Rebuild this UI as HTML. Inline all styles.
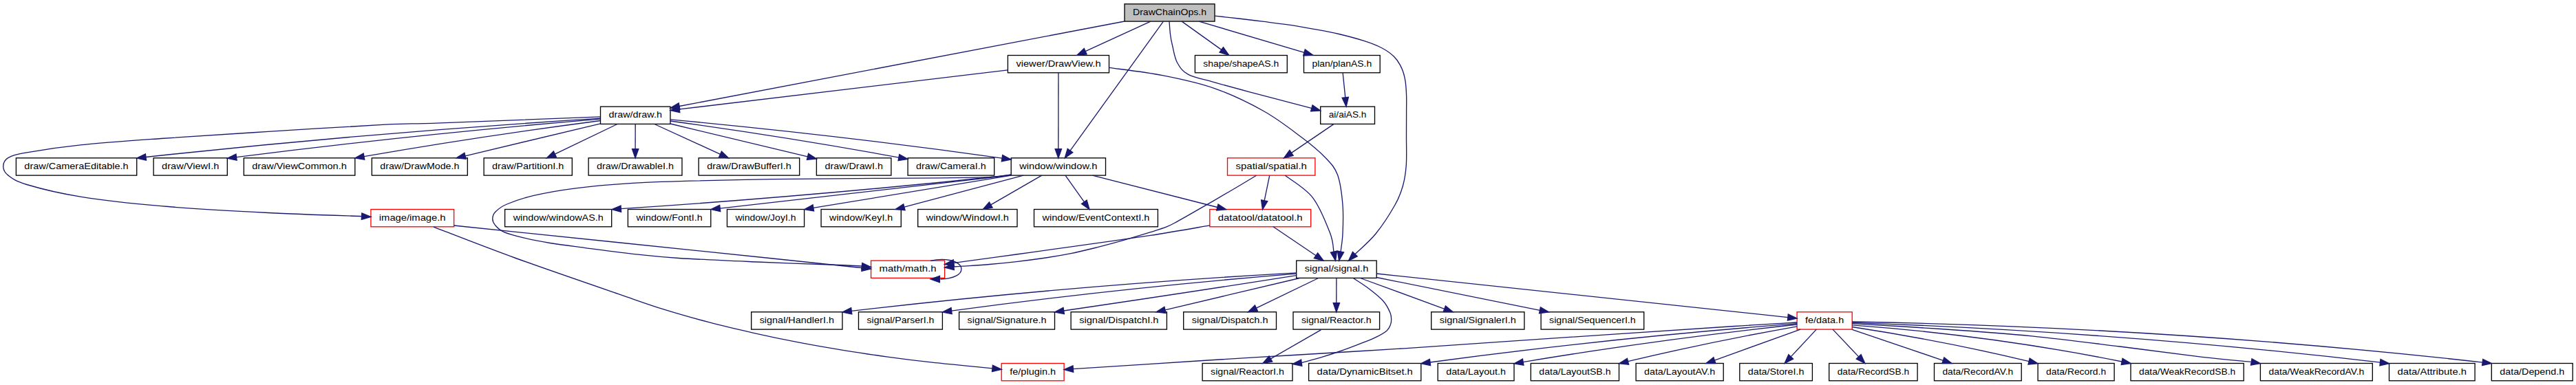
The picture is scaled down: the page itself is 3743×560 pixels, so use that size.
<!DOCTYPE html>
<html><head><meta charset="utf-8"><title>DrawChainOps.h</title>
<style>html,body{margin:0;padding:0;background:#fff}svg{display:block}text{font-family:"Liberation Sans",sans-serif;font-size:13.5px;fill:#000;text-anchor:middle}.e{fill:none;stroke:#191970;stroke-width:1.33}.a{fill:#191970;stroke:#191970;stroke-width:1.33}.n{stroke-width:1.33}</style></head><body>
<svg width="3743" height="560" viewBox="0 0 3743 560">
<rect width="3743" height="560" fill="#fff"/>
<rect class="n" x="1634.0" y="5.8" width="131.0" height="25.3" fill="#bfbfbf" stroke="#000"/>
<text x="1699.5" y="22.1" textLength="107.0" lengthAdjust="spacingAndGlyphs">DrawChainOps.h</text>
<rect class="n" x="1464.4" y="80.5" width="147.1" height="25.3" fill="#fff" stroke="#000"/>
<text x="1538.0" y="96.7" textLength="123.1" lengthAdjust="spacingAndGlyphs">viewer/DrawView.h</text>
<rect class="n" x="1736.4" y="80.5" width="133.9" height="25.3" fill="#fff" stroke="#000"/>
<text x="1803.3" y="96.7" textLength="109.9" lengthAdjust="spacingAndGlyphs">shape/shapeAS.h</text>
<rect class="n" x="1894.5" y="80.5" width="110.7" height="25.3" fill="#fff" stroke="#000"/>
<text x="1949.8" y="96.7" textLength="86.7" lengthAdjust="spacingAndGlyphs">plan/planAS.h</text>
<rect class="n" x="872.5" y="155.1" width="101.5" height="25.3" fill="#fff" stroke="#000"/>
<text x="923.2" y="171.4" textLength="77.5" lengthAdjust="spacingAndGlyphs">draw/draw.h</text>
<rect class="n" x="1918.7" y="155.1" width="78.8" height="25.3" fill="#fff" stroke="#000"/>
<text x="1958.1" y="171.4" textLength="54.8" lengthAdjust="spacingAndGlyphs">ai/aiAS.h</text>
<rect class="n" x="23.4" y="229.8" width="175.3" height="25.3" fill="#fff" stroke="#000"/>
<text x="111.0" y="246.1" textLength="151.3" lengthAdjust="spacingAndGlyphs">draw/CameraEditable.h</text>
<rect class="n" x="223.1" y="229.8" width="107.2" height="25.3" fill="#fff" stroke="#000"/>
<text x="276.7" y="246.1" textLength="83.2" lengthAdjust="spacingAndGlyphs">draw/ViewI.h</text>
<rect class="n" x="354.3" y="229.8" width="161.5" height="25.3" fill="#fff" stroke="#000"/>
<text x="435.0" y="246.1" textLength="137.5" lengthAdjust="spacingAndGlyphs">draw/ViewCommon.h</text>
<rect class="n" x="540.3" y="229.8" width="139.0" height="25.3" fill="#fff" stroke="#000"/>
<text x="609.8" y="246.1" textLength="115.0" lengthAdjust="spacingAndGlyphs">draw/DrawMode.h</text>
<rect class="n" x="703.1" y="229.8" width="128.2" height="25.3" fill="#fff" stroke="#000"/>
<text x="767.2" y="246.1" textLength="104.2" lengthAdjust="spacingAndGlyphs">draw/PartitionI.h</text>
<rect class="n" x="855.1" y="229.8" width="135.9" height="25.3" fill="#fff" stroke="#000"/>
<text x="923.0" y="246.1" textLength="111.9" lengthAdjust="spacingAndGlyphs">draw/DrawableI.h</text>
<rect class="n" x="1015.2" y="229.8" width="146.5" height="25.3" fill="#fff" stroke="#000"/>
<text x="1088.5" y="246.1" textLength="122.5" lengthAdjust="spacingAndGlyphs">draw/DrawBufferI.h</text>
<rect class="n" x="1186.4" y="229.8" width="108.5" height="25.3" fill="#fff" stroke="#000"/>
<text x="1240.7" y="246.1" textLength="84.5" lengthAdjust="spacingAndGlyphs">draw/DrawI.h</text>
<rect class="n" x="1319.1" y="229.8" width="125.6" height="25.3" fill="#fff" stroke="#000"/>
<text x="1381.9" y="246.1" textLength="101.6" lengthAdjust="spacingAndGlyphs">draw/CameraI.h</text>
<rect class="n" x="1469.2" y="229.8" width="137.3" height="25.3" fill="#fff" stroke="#000"/>
<text x="1537.8" y="246.1" textLength="113.3" lengthAdjust="spacingAndGlyphs">window/window.h</text>
<rect class="n" x="1783.5" y="229.8" width="127.4" height="25.3" fill="#fff" stroke="#ff0000"/>
<text x="1847.2" y="246.1" textLength="103.4" lengthAdjust="spacingAndGlyphs">spatial/spatial.h</text>
<rect class="n" x="538.9" y="304.5" width="120.7" height="25.3" fill="#fff" stroke="#ff0000"/>
<text x="599.2" y="320.7" textLength="96.7" lengthAdjust="spacingAndGlyphs">image/image.h</text>
<rect class="n" x="733.6" y="304.5" width="155.1" height="25.3" fill="#fff" stroke="#000"/>
<text x="811.2" y="320.7" textLength="131.1" lengthAdjust="spacingAndGlyphs">window/windowAS.h</text>
<rect class="n" x="912.4" y="304.5" width="120.4" height="25.3" fill="#fff" stroke="#000"/>
<text x="972.6" y="320.7" textLength="96.4" lengthAdjust="spacingAndGlyphs">window/FontI.h</text>
<rect class="n" x="1056.5" y="304.5" width="112.1" height="25.3" fill="#fff" stroke="#000"/>
<text x="1112.5" y="320.7" textLength="88.1" lengthAdjust="spacingAndGlyphs">window/JoyI.h</text>
<rect class="n" x="1193.1" y="304.5" width="116.2" height="25.3" fill="#fff" stroke="#000"/>
<text x="1251.2" y="320.7" textLength="92.2" lengthAdjust="spacingAndGlyphs">window/KeyI.h</text>
<rect class="n" x="1333.7" y="304.5" width="144.3" height="25.3" fill="#fff" stroke="#000"/>
<text x="1405.8" y="320.7" textLength="120.3" lengthAdjust="spacingAndGlyphs">window/WindowI.h</text>
<rect class="n" x="1502.5" y="304.5" width="179.9" height="25.3" fill="#fff" stroke="#000"/>
<text x="1592.5" y="320.7" textLength="155.9" lengthAdjust="spacingAndGlyphs">window/EventContextI.h</text>
<rect class="n" x="1757.8" y="304.5" width="146.9" height="25.3" fill="#fff" stroke="#ff0000"/>
<text x="1831.2" y="320.7" textLength="122.9" lengthAdjust="spacingAndGlyphs">datatool/datatool.h</text>
<rect class="n" x="1265.6" y="379.1" width="107.0" height="25.3" fill="#fff" stroke="#ff0000"/>
<text x="1319.1" y="395.4" textLength="83.0" lengthAdjust="spacingAndGlyphs">math/math.h</text>
<rect class="n" x="1883.7" y="379.1" width="116.5" height="25.3" fill="#fff" stroke="#000"/>
<text x="1942.0" y="395.4" textLength="92.5" lengthAdjust="spacingAndGlyphs">signal/signal.h</text>
<rect class="n" x="1091.7" y="453.8" width="132.3" height="25.3" fill="#fff" stroke="#000"/>
<text x="1157.8" y="470.1" textLength="108.3" lengthAdjust="spacingAndGlyphs">signal/HandlerI.h</text>
<rect class="n" x="1247.5" y="453.8" width="121.9" height="25.3" fill="#fff" stroke="#000"/>
<text x="1308.5" y="470.1" textLength="97.9" lengthAdjust="spacingAndGlyphs">signal/ParserI.h</text>
<rect class="n" x="1393.6" y="453.8" width="138.9" height="25.3" fill="#fff" stroke="#000"/>
<text x="1463.0" y="470.1" textLength="114.9" lengthAdjust="spacingAndGlyphs">signal/Signature.h</text>
<rect class="n" x="1556.1" y="453.8" width="139.3" height="25.3" fill="#fff" stroke="#000"/>
<text x="1625.8" y="470.1" textLength="115.3" lengthAdjust="spacingAndGlyphs">signal/DispatchI.h</text>
<rect class="n" x="1719.7" y="453.8" width="134.8" height="25.3" fill="#fff" stroke="#000"/>
<text x="1787.1" y="470.1" textLength="110.8" lengthAdjust="spacingAndGlyphs">signal/Dispatch.h</text>
<rect class="n" x="1879.0" y="453.8" width="125.6" height="25.3" fill="#fff" stroke="#000"/>
<text x="1941.8" y="470.1" textLength="101.6" lengthAdjust="spacingAndGlyphs">signal/Reactor.h</text>
<rect class="n" x="2079.7" y="453.8" width="135.2" height="25.3" fill="#fff" stroke="#000"/>
<text x="2147.3" y="470.1" textLength="111.2" lengthAdjust="spacingAndGlyphs">signal/SignalerI.h</text>
<rect class="n" x="2239.1" y="453.8" width="149.6" height="25.3" fill="#fff" stroke="#000"/>
<text x="2313.9" y="470.1" textLength="125.6" lengthAdjust="spacingAndGlyphs">signal/SequencerI.h</text>
<rect class="n" x="2611.1" y="453.8" width="80.1" height="25.3" fill="#fff" stroke="#ff0000"/>
<text x="2651.1" y="470.1" textLength="56.1" lengthAdjust="spacingAndGlyphs">fe/data.h</text>
<rect class="n" x="1455.2" y="528.5" width="90.9" height="25.3" fill="#fff" stroke="#ff0000"/>
<text x="1500.7" y="544.7" textLength="66.9" lengthAdjust="spacingAndGlyphs">fe/plugin.h</text>
<rect class="n" x="1747.1" y="528.5" width="130.9" height="25.3" fill="#fff" stroke="#000"/>
<text x="1812.5" y="544.7" textLength="106.9" lengthAdjust="spacingAndGlyphs">signal/ReactorI.h</text>
<rect class="n" x="1901.6" y="528.5" width="163.2" height="25.3" fill="#fff" stroke="#000"/>
<text x="1983.2" y="544.7" textLength="139.2" lengthAdjust="spacingAndGlyphs">data/DynamicBitset.h</text>
<rect class="n" x="2089.2" y="528.5" width="110.8" height="25.3" fill="#fff" stroke="#000"/>
<text x="2144.6" y="544.7" textLength="86.8" lengthAdjust="spacingAndGlyphs">data/Layout.h</text>
<rect class="n" x="2224.3" y="528.5" width="128.2" height="25.3" fill="#fff" stroke="#000"/>
<text x="2288.4" y="544.7" textLength="104.2" lengthAdjust="spacingAndGlyphs">data/LayoutSB.h</text>
<rect class="n" x="2377.1" y="528.5" width="127.1" height="25.3" fill="#fff" stroke="#000"/>
<text x="2440.6" y="544.7" textLength="103.1" lengthAdjust="spacingAndGlyphs">data/LayoutAV.h</text>
<rect class="n" x="2527.8" y="528.5" width="105.6" height="25.3" fill="#fff" stroke="#000"/>
<text x="2580.6" y="544.7" textLength="81.6" lengthAdjust="spacingAndGlyphs">data/StoreI.h</text>
<rect class="n" x="2657.7" y="528.5" width="128.4" height="25.3" fill="#fff" stroke="#000"/>
<text x="2721.9" y="544.7" textLength="104.4" lengthAdjust="spacingAndGlyphs">data/RecordSB.h</text>
<rect class="n" x="2810.5" y="528.5" width="126.7" height="25.3" fill="#fff" stroke="#000"/>
<text x="2873.8" y="544.7" textLength="102.7" lengthAdjust="spacingAndGlyphs">data/RecordAV.h</text>
<rect class="n" x="2961.1" y="528.5" width="111.0" height="25.3" fill="#fff" stroke="#000"/>
<text x="3016.6" y="544.7" textLength="87.0" lengthAdjust="spacingAndGlyphs">data/Record.h</text>
<rect class="n" x="3096.0" y="528.5" width="164.2" height="25.3" fill="#fff" stroke="#000"/>
<text x="3178.1" y="544.7" textLength="140.2" lengthAdjust="spacingAndGlyphs">data/WeakRecordSB.h</text>
<rect class="n" x="3284.4" y="528.5" width="162.9" height="25.3" fill="#fff" stroke="#000"/>
<text x="3365.9" y="544.7" textLength="138.9" lengthAdjust="spacingAndGlyphs">data/WeakRecordAV.h</text>
<rect class="n" x="3471.5" y="528.5" width="124.6" height="25.3" fill="#fff" stroke="#000"/>
<text x="3533.8" y="544.7" textLength="100.6" lengthAdjust="spacingAndGlyphs">data/Attribute.h</text>
<rect class="n" x="3620.3" y="528.5" width="117.9" height="25.3" fill="#fff" stroke="#000"/>
<text x="3679.2" y="544.7" textLength="93.9" lengthAdjust="spacingAndGlyphs">data/Depend.h</text>
<g class="e">
<path d="M1634.0,31.0 L987.1,154.5"/>
<path d="M1671.9,31.1 L1577.1,74.6"/>
<path d="M1690.4,31.1 L1555.0,219.1"/>
<path d="M1699.0,30.7 C1699.2,33.9 1699.8,44.1 1700.5,50.0 C1701.2,55.9 1701.8,59.2 1703.5,66.0 C1705.2,72.8 1706.6,83.9 1710.5,91.0 C1714.4,98.1 1717.8,103.6 1726.7,108.4 C1735.6,113.2 1749.5,115.4 1764.0,119.6 C1778.5,123.8 1790.4,127.0 1814.0,133.3 C1837.6,139.6 1890.2,153.3 1905.5,157.3"/>
<path d="M1717.2,31.1 L1774.8,72.4"/>
<path d="M1742.2,31.1 L1895.0,76.4"/>
<path d="M1765.0,23.2 C1770.8,23.8 1788.1,25.6 1800.0,27.0 C1811.9,28.4 1824.3,29.9 1836.4,31.4 C1848.5,32.9 1860.6,34.3 1872.7,36.1 C1884.8,37.9 1897.0,40.1 1909.1,42.3 C1921.2,44.5 1933.4,46.6 1945.5,49.5 C1957.6,52.4 1971.5,56.1 1981.8,59.4 C1992.1,62.7 2000.0,65.7 2007.3,69.5 C2014.6,73.3 2020.7,77.5 2025.5,82.3 C2030.3,87.1 2033.7,92.8 2036.4,98.6 C2039.1,104.3 2040.6,110.1 2041.8,116.8 C2043.0,123.5 2043.3,131.1 2043.6,138.6 C2043.9,146.1 2043.6,151.8 2043.6,162.0 C2043.6,172.2 2043.5,187.0 2043.5,200.0 C2043.5,213.0 2044.1,228.3 2043.3,240.0 C2042.5,251.7 2041.2,260.3 2038.5,270.0 C2035.8,279.7 2033.6,286.3 2027.0,298.0 C2020.4,309.7 2008.8,327.9 1999.0,340.0 C1989.2,352.1 1973.2,365.4 1968.0,370.5"/>
<path d="M1464.4,101.9 L987.2,158.9"/>
<path d="M1537.9,105.8 L1537.8,216.6"/>
<path d="M1611.5,98.4 C1624.4,100.3 1663.6,104.6 1689.0,109.6 C1714.4,114.6 1739.5,119.7 1764.0,128.3 C1788.5,137.0 1814.7,149.6 1836.0,161.5 C1857.3,173.4 1876.7,188.8 1891.6,200.0 C1906.5,211.2 1916.8,219.9 1925.5,229.0 C1934.2,238.1 1939.3,243.0 1943.6,254.5 C1947.8,266.0 1949.8,283.8 1951.0,298.0 C1952.2,312.2 1951.5,328.6 1951.0,340.0 C1950.5,351.4 1948.5,362.0 1948.0,366.4"/>
<path d="M1951.1,105.6 L1954.8,141.7"/>
<path d="M1938.2,180.4 L1876.5,222.4"/>
<path d="M872.5,169.9 C833.8,171.4 692.1,176.9 640.0,178.8 C587.9,180.7 601.7,179.1 560.0,181.2 C518.3,183.3 444.1,188.0 389.7,191.4 C335.3,194.8 279.3,198.2 233.8,201.5 C188.3,204.8 149.4,207.5 116.9,210.9 C84.4,214.3 56.5,218.7 39.0,221.8 C21.5,224.9 17.4,226.2 11.7,229.6 C6.0,233.0 4.7,237.8 4.7,242.0 C4.7,246.2 6.0,250.5 11.7,254.9 C17.4,259.3 21.5,263.3 39.0,268.5 C56.5,273.7 84.4,280.9 116.9,286.1 C149.4,291.3 188.3,295.8 233.8,299.7 C279.3,303.6 341.1,307.0 389.7,309.5 C438.3,312.0 503.0,313.8 525.6,314.6"/>
<path d="M872.5,172.2 Q535.6,193.1 212.0,228.5"/>
<path d="M872.5,173.1 Q601.4,195.7 343.5,228.6"/>
<path d="M872.5,175.5 Q694.1,198.8 528.9,227.7"/>
<path d="M872.5,179.9 L676.0,226.8"/>
<path d="M897.0,180.5 L806.3,224.1"/>
<path d="M923.2,180.5 L923.1,216.6"/>
<path d="M950.9,180.5 L1046.6,224.3"/>
<path d="M974.0,180.0 L1173.5,227.9"/>
<path d="M974.0,176.0 Q1146.5,199.7 1306.0,229.1"/>
<path d="M974.0,173.8 Q1221.6,196.9 1456.0,230.1"/>
<path d="M1469.2,254.0 C1463.6,254.6 1453.0,256.9 1435.8,257.7 C1418.6,258.5 1397.8,258.5 1366.0,258.8 C1334.2,259.1 1285.3,259.3 1245.0,259.6 C1204.7,259.9 1164.3,260.1 1124.0,260.7 C1083.7,261.3 1038.3,262.2 1003.0,263.2 C967.7,264.2 939.8,265.0 912.0,266.8 C884.2,268.6 859.0,270.9 836.3,273.8 C813.6,276.7 792.3,280.5 775.7,284.4 C759.1,288.3 745.8,293.1 736.5,297.0 C727.2,300.9 723.5,304.5 720.0,308.0 C716.5,311.5 715.8,314.8 715.7,318.0 C715.6,321.2 716.7,324.2 719.4,327.4 C722.1,330.6 724.8,334.2 731.9,337.3 C739.0,340.4 750.6,343.4 761.8,346.1 C773.0,348.8 784.7,351.1 799.2,353.5 C813.7,355.9 828.2,357.6 849.0,360.3 C869.8,363.0 900.9,367.3 923.8,369.8 C946.7,372.3 956.8,373.6 986.2,375.5 C1015.6,377.4 1061.0,379.3 1100.0,381.0 C1139.0,382.7 1194.6,384.5 1220.0,385.5 C1245.4,386.5 1247.0,386.8 1252.4,387.0"/>
<path d="M1469.2,254.5 Q1179.1,285.6 902.3,303.7"/>
<path d="M1469.2,254.8 L1046.2,303.1"/>
<path d="M1469.2,255.1 L1181.9,302.4"/>
<path d="M1487.0,255.2 L1313.9,301.2"/>
<path d="M1513.7,255.2 L1439.7,297.9"/>
<path d="M1548.0,255.2 L1575.3,293.7"/>
<path d="M1587.4,255.1 L1768.9,301.5"/>
<path d="M1825.5,255.3 C1819.4,259.0 1801.3,269.9 1788.7,277.3 C1776.1,284.7 1762.7,292.4 1749.7,299.9 C1736.7,307.4 1719.8,317.1 1710.7,322.1 C1701.6,327.1 1701.6,327.3 1695.1,329.9 C1688.6,332.5 1682.2,334.4 1671.8,337.7 C1661.4,340.9 1645.8,345.7 1632.8,349.4 C1619.8,353.1 1606.8,356.6 1593.8,359.9 C1580.8,363.1 1567.9,366.3 1554.9,368.9 C1541.9,371.5 1528.9,373.6 1515.9,375.5 C1502.9,377.4 1489.9,379.1 1476.9,380.6 C1463.9,382.1 1450.9,383.4 1437.9,384.5 C1424.9,385.6 1407.7,386.6 1399.0,387.2 C1390.3,387.8 1387.8,387.9 1385.6,388.0"/>
<path d="M1844.7,255.3 L1837.2,291.7"/>
<path d="M1867.3,255.3 C1874.0,260.6 1896.4,273.3 1907.3,287.3 C1918.2,301.3 1927.6,326.1 1932.7,339.3 C1937.8,352.5 1937.1,362.0 1938.0,366.5"/>
<path d="M659.6,328.0 C736.0,335.9 1019.2,365.2 1118.0,375.5 C1216.8,385.8 1230.0,387.3 1252.4,389.7"/>
<path d="M630.0,330.1 C649.9,337.7 704.3,359.2 749.3,375.5 C794.3,391.8 864.0,415.7 900.0,428.1 C936.0,440.6 943.4,443.4 965.0,450.2 C986.6,457.0 1008.3,463.0 1029.9,468.7 C1051.6,474.4 1073.2,479.4 1094.9,484.3 C1116.6,489.2 1138.2,493.7 1159.8,497.9 C1181.4,502.1 1203.1,505.8 1224.8,509.3 C1246.5,512.8 1268.0,516.1 1289.7,519.1 C1311.4,522.1 1333.1,524.8 1354.7,527.2 C1376.3,529.6 1405.1,532.2 1419.6,533.7 C1434.1,535.2 1438.2,535.5 1441.9,535.9"/>
<path d="M1757.8,327.9 C1743.5,330.3 1705.6,337.2 1671.8,342.4 C1638.0,347.6 1587.4,354.5 1554.9,359.1 C1522.4,363.7 1502.9,366.4 1476.9,370.0 C1450.9,373.6 1414.2,378.5 1399.0,380.6 C1383.8,382.7 1387.8,382.3 1385.6,382.6"/>
<path d="M1850.0,329.8 L1912.1,371.7"/>
<path d="M1352.1,379.3 C1362,377 1372,376.8 1380,378.5 C1390,380.8 1396.9,385.5 1396.9,391.4 C1396.9,399 1386,405.5 1366.4,406"/>
<path d="M1883.7,396.8 Q1553.8,415.4 1237.2,452.4"/>
<path d="M1883.7,398.1 Q1626.6,419.0 1382.6,452.1"/>
<path d="M1883.7,400.6 Q1708.1,428.3 1545.7,452.0"/>
<path d="M1888.5,404.5 L1693.0,450.8"/>
<path d="M1915.7,404.5 L1825.4,448.1"/>
<path d="M1941.9,404.5 L1941.8,440.6"/>
<path d="M1966.8,404.9 C1970.5,407.4 1982.0,414.5 1989.2,420.0 C1996.4,425.5 2004.9,432.2 2010.0,438.0 C2015.1,443.8 2018.1,450.5 2020.0,455.0 C2021.9,459.5 2021.5,462.2 2021.6,465.0 C2021.7,467.8 2021.6,469.3 2020.5,472.0 C2019.4,474.7 2018.9,477.9 2014.9,481.2 C2010.9,484.5 2003.5,488.5 1996.3,491.9 C1989.0,495.3 1979.7,498.6 1971.4,501.8 C1963.1,505.0 1954.9,508.1 1946.6,511.0 C1938.3,513.9 1930.9,516.4 1921.7,519.2 C1912.5,522.0 1896.6,526.2 1891.6,527.6"/>
<path d="M1976.5,404.5 L2098.8,449.3"/>
<path d="M2000.2,403.5 L2237.4,451.3"/>
<path d="M2000.2,398.0 L2597.8,461.6"/>
<path d="M1919.3,479.8 L1846.3,521.9"/>
<path d="M2611.1,469.0 C2595.9,469.9 2592.2,469.8 2520.0,474.5 C2447.8,479.2 2258.0,491.9 2178.0,497.3 C2098.0,502.7 2089.7,503.6 2040.0,506.8 C1990.3,510.0 1928.7,513.5 1880.0,516.5 C1831.3,519.5 1801.2,521.1 1747.8,524.5 C1694.4,527.9 1590.8,534.6 1559.4,536.6"/>
<path d="M2611.1,470.7 Q2337.9,491.8 2078.0,527.0"/>
<path d="M2611.1,472.0 Q2405.6,494.4 2213.1,526.6"/>
<path d="M2611.1,474.8 Q2481.8,497.8 2365.5,525.7"/>
<path d="M2616.0,479.1 L2491.3,524.1"/>
<path d="M2639.3,479.1 L2602.2,518.9"/>
<path d="M2663.1,479.1 L2700.7,518.9"/>
<path d="M2691.2,479.3 L2823.4,524.3"/>
<path d="M2691.2,475.5 Q2826.1,496.1 2948.1,525.7"/>
<path d="M2691.2,472.8 Q2893.7,487.7 3083.1,526.0"/>
<path d="M2691.2,470.7 C2712.7,472.0 2776.4,475.5 2820.0,478.5 C2863.6,481.5 2909.2,484.6 2952.5,488.8 C2995.8,493.1 3038.8,498.9 3080.0,504.0 C3121.2,509.1 3168.2,515.6 3200.0,519.3 C3231.8,523.0 3258.8,525.2 3270.6,526.4"/>
<path d="M2691.2,469.3 Q3081.4,483.0 3458.5,527.1"/>
<path d="M2691.2,468.0 Q3155.8,476.3 3607.2,527.1"/>
</g><g class="a">
<polygon points="986.2,149.9 974.0,157.0 988.0,159.1"/>
<polygon points="1575.2,70.4 1565.0,80.2 1579.1,78.9"/>
<polygon points="1551.2,216.4 1547.2,229.9 1558.8,221.8"/>
<polygon points="1904.6,161.9 1918.7,161.0 1907.1,152.9"/>
<polygon points="1772.0,76.2 1785.6,80.2 1777.5,68.6"/>
<polygon points="1893.7,80.9 1907.8,80.2 1896.3,71.9"/>
<polygon points="1965.5,366.4 1959.5,379.2 1972.2,372.9"/>
<polygon points="986.7,154.3 974.0,160.5 987.8,163.6"/>
<polygon points="1533.1,216.6 1537.8,229.9 1542.5,216.6"/>
<polygon points="1943.5,365.2 1945.6,379.2 1952.6,367.0"/>
<polygon points="1950.1,142.2 1956.1,155.0 1959.4,141.3"/>
<polygon points="1873.9,218.5 1865.5,229.9 1879.1,226.3"/>
<polygon points="525.3,319.3 538.9,315.3 525.8,309.9"/>
<polygon points="211.4,223.9 198.7,230.0 212.5,233.2"/>
<polygon points="342.9,224.0 330.3,230.3 344.1,233.2"/>
<polygon points="528.1,223.1 515.8,230.0 529.7,232.3"/>
<polygon points="674.9,222.3 663.0,229.9 677.0,231.3"/>
<polygon points="804.3,219.9 794.3,229.9 808.3,228.3"/>
<polygon points="918.5,216.6 923.1,229.9 927.8,216.6"/>
<polygon points="1044.6,228.6 1058.7,229.9 1048.5,220.1"/>
<polygon points="1172.4,232.4 1186.5,231.0 1174.6,223.3"/>
<polygon points="1305.1,233.7 1319.1,231.5 1306.8,224.5"/>
<polygon points="1455.3,234.8 1469.2,232.0 1456.7,225.5"/>
<polygon points="1251.8,391.6 1265.6,388.5 1252.9,382.4"/>
<polygon points="902.0,299.1 889.0,304.6 902.6,308.4"/>
<polygon points="1045.7,298.4 1033.0,304.6 1046.8,307.7"/>
<polygon points="1181.1,297.8 1168.7,304.6 1182.6,307.0"/>
<polygon points="1312.7,296.7 1301.0,304.6 1315.1,305.7"/>
<polygon points="1437.4,293.9 1428.2,304.6 1442.1,302.0"/>
<polygon points="1571.5,296.4 1583.0,304.6 1579.1,291.0"/>
<polygon points="1767.7,306.0 1781.8,304.8 1770.0,297.0"/>
<polygon points="1385.5,383.3 1372.6,389.1 1386.3,392.6"/>
<polygon points="1832.6,290.8 1834.5,304.8 1841.8,292.7"/>
<polygon points="1933.4,367.1 1940.6,379.2 1942.5,365.2"/>
<polygon points="1251.9,394.3 1265.6,391.0 1252.8,385.0"/>
<polygon points="1441.5,540.5 1455.2,537.3 1442.4,531.3"/>
<polygon points="1385.2,377.9 1372.6,384.4 1386.4,387.2"/>
<polygon points="1909.4,375.6 1923.1,379.2 1914.7,367.9"/>
<polygon points="1365.5,401.3 1352.1,405.9 1365.4,410.7"/>
<polygon points="1236.7,447.7 1224.0,453.9 1237.8,457.0"/>
<polygon points="1382.0,447.5 1369.4,453.9 1383.2,456.7"/>
<polygon points="1545.0,447.4 1532.5,453.9 1546.4,456.6"/>
<polygon points="1691.9,446.3 1680.0,453.9 1694.0,455.4"/>
<polygon points="1823.4,443.9 1813.4,453.9 1827.4,452.3"/>
<polygon points="1937.2,440.6 1941.8,453.9 1946.5,440.6"/>
<polygon points="1890.6,523.0 1878.0,529.4 1891.8,532.3"/>
<polygon points="2097.2,453.7 2111.3,453.9 2100.4,444.9"/>
<polygon points="2236.5,455.8 2250.5,453.9 2238.4,446.7"/>
<polygon points="2597.4,466.2 2611.1,463.0 2598.3,456.9"/>
<polygon points="1844.0,517.9 1834.8,528.6 1848.7,526.0"/>
<polygon points="1559.0,531.9 1546.1,537.6 1559.7,541.3"/>
<polygon points="2077.4,522.4 2064.8,528.8 2078.6,531.6"/>
<polygon points="2212.4,522.0 2200.0,528.8 2213.9,531.2"/>
<polygon points="2364.4,521.2 2352.5,528.8 2366.6,530.2"/>
<polygon points="2489.8,519.7 2478.8,528.6 2492.9,528.5"/>
<polygon points="2598.8,515.7 2593.1,528.6 2605.6,522.0"/>
<polygon points="2697.3,522.1 2709.9,528.6 2704.1,515.7"/>
<polygon points="2821.9,528.7 2836.0,528.6 2824.9,519.9"/>
<polygon points="2947.0,530.2 2961.1,528.8 2949.2,521.1"/>
<polygon points="3082.2,530.5 3096.2,528.6 3084.1,521.4"/>
<polygon points="3270.5,531.1 3284.4,528.6 3272.0,521.9"/>
<polygon points="3457.9,531.8 3471.7,528.7 3459.0,522.5"/>
<polygon points="3606.6,531.7 3620.4,528.6 3607.7,522.5"/>
</g>
</svg></body></html>
